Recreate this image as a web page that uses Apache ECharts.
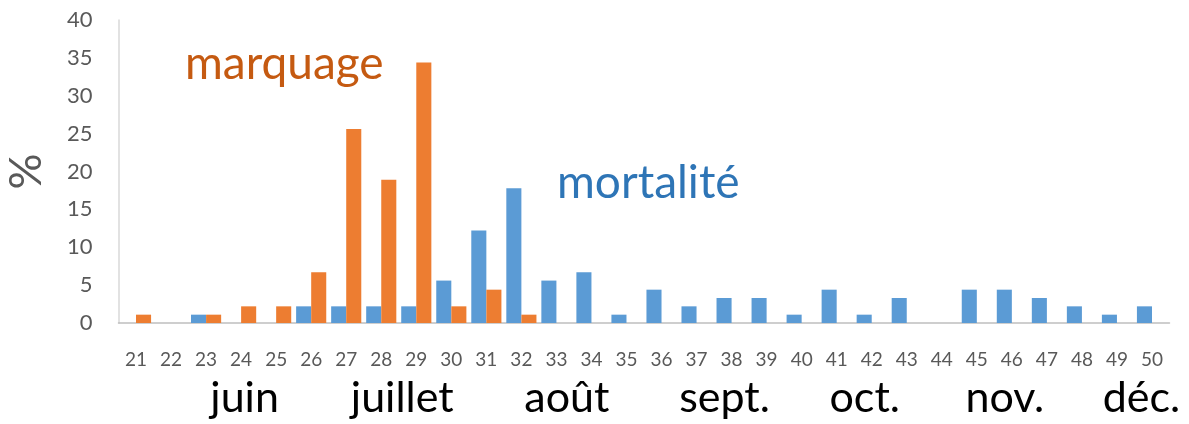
<!DOCTYPE html>
<html>
<head>
<meta charset="utf-8">
<script src="https://cdn.jsdelivr.net/npm/echarts@6/dist/echarts.min.js"></script>
<style>html,body{margin:0;padding:0;background:#fff}#c{width:1189px;height:424px}</style>
</head>
<body>
<div id="c"></div>
<script>
var weeks = ['21','22','23','24','25','26','27','28','29','30','31','32','33','34','35','36','37','38','39','40','41','42','43','44','45','46','47','48','49','50'];
var mortalite = [0,0,1.1,0,0,2.2,2.2,2.2,2.2,5.6,12.2,17.8,5.6,6.7,1.1,4.4,2.2,3.3,3.3,1.1,4.4,1.1,3.3,0,4.4,4.4,3.3,2.2,1.1,2.2];
var marquage = [1.1,0,1.1,2.2,2.2,6.7,25.6,18.9,34.4,2.2,4.4,1.1,0,0,0,0,0,0,0,0,0,0,0,0,0,0,0,0,0,0];
var monthNames = ['juin','juillet','août','sept.','oct.','nov.','déc.'];
var monthPos = [24.1, 28.6, 33.3, 37.8, 41.8, 45.8, 49.7];
var yTicks = [0,5,10,15,20,25,30,35,40];

var chart = echarts.init(document.getElementById('c'));
var font = 'Lato, "Open Sans", sans-serif';
chart.setOption({
  animation: false,
  grid: {left: 118.5, right: 19.5, top: 20, bottom: 101, containLabel: false, outerBoundsMode: 'none'},
  xAxis: [{
    type: 'category', data: weeks,
    axisLine: {lineStyle: {color: '#BFBFBF', width: 1.5}},
    axisTick: {show: false},
    axisLabel: {color: '#595959', fontSize: 19, margin: 27, fontFamily: font}
  }, {
    type: 'value', min: 20.5, max: 50.5, position: 'bottom',
    axisLine: {show: false}, axisTick: {show: false}, splitLine: {show: false},
    axisLabel: {
      customValues: monthPos, color: '#000', fontSize: 43, margin: 54, fontFamily: font,
      formatter: function (v) { var i = monthPos.indexOf(v); return i >= 0 ? monthNames[i] : ''; }
    }
  }],
  yAxis: {
    type: 'value', min: 0, max: 40, interval: 5,
    name: '%', nameLocation: 'middle', nameGap: 70, nameRotate: 90,
    nameTextStyle: {color: '#595959', fontSize: 45, fontFamily: font},
    axisLine: {show: true, lineStyle: {color: '#D9D9D9', width: 1.5}},
    axisTick: {show: false}, splitLine: {show: false},
    axisLabel: {color: '#595959', fontSize: 22, margin: 26, fontFamily: font,
      formatter: function (v) { return yTicks.indexOf(v) >= 0 ? String(v) : ''; }}
  },
  series: [{
    name: 'mortalité', type: 'bar', data: mortalite, xAxisIndex: 0,
    itemStyle: {color: '#5B9BD5'}, barGap: '0%', barCategoryGap: '14%'
  }, {
    name: 'marquage', type: 'bar', data: marquage, xAxisIndex: 0,
    itemStyle: {color: '#ED7D31'}, barGap: '0%', barCategoryGap: '14%'
  }],
  graphic: [
    {type: 'text', left: 185, top: 41, style: {text: 'marquage', fill: '#C55A11', fontSize: 46, fontFamily: font}},
    {type: 'text', left: 557, top: 160, style: {text: 'mortalité', fill: '#2E75B6', fontSize: 46, fontFamily: font}}
  ]
});
</script>
</body>
</html>
